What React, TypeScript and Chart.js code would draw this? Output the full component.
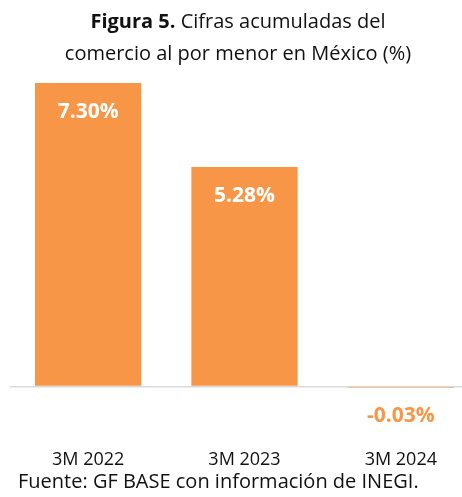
import React, { useEffect, useRef } from "react";
import { Chart, registerables } from "chart.js";

Chart.register(...registerables);

const categories = ["3M 2022", "3M 2023", "3M 2024"];
const values = [7.3, 5.28, -0.03];
const valueLabels = ["7.30%", "5.28%", "-0.03%"];

const ORANGE = "#F79646";
const FONT = "'Open Sans', 'Noto Sans', sans-serif";

const labelPlugin = {
  id: "barLabels",
  afterDatasetsDraw(chart: any) {
    const ctx = chart.ctx;
    const meta = chart.getDatasetMeta(0);
    ctx.save();
    ctx.font = `bold 21px ${FONT}`;
    ctx.textAlign = "center";
    ctx.textBaseline = "middle";
    meta.data.forEach((el: any, i: number) => {
      const v = values[i];
      ctx.fillStyle = v >= 0 ? "#ffffff" : ORANGE;
      const y = v >= 0 ? el.y + 28.5 : el.y + 28;
      ctx.fillText(valueLabels[i], el.x, y);
    });
    ctx.restore();
  },
};

export default function App() {
  const ref = useRef<HTMLCanvasElement | null>(null);

  useEffect(() => {
    if (!ref.current) return;
    const chart = new Chart(ref.current, {
      type: "bar",
      data: {
        labels: categories,
        datasets: [
          {
            data: values,
            backgroundColor: ORANGE,
            borderWidth: 0,
            barPercentage: 0.68,
            categoryPercentage: 1,
          },
        ],
      },
      options: {
        animation: false,
        responsive: false,
        maintainAspectRatio: false,
        layout: { padding: { left: 10, right: 1, top: 54, bottom: 0 } },
        plugins: {
          legend: { display: false },
          tooltip: { enabled: false },
          title: { display: false },
        },
        scales: {
          x: {
            grid: { display: false },
            border: { display: false },
            ticks: {
              color: "#111111",
              font: { family: FONT, size: 18 },
              padding: 1,
              maxRotation: 0,
            },
            afterFit: (s: any) => {
              s.height = 56.5;
            },
          },
          y: {
            min: -1.3,
            max: 8,
            ticks: { display: false, stepSize: 1 },
            border: { display: false },
            grid: {
              drawTicks: false,
              lineWidth: 1.5,
              color: (c: any) =>
                c.tick && c.tick.value === 0 ? "#D9D9D9" : "rgba(0,0,0,0)",
            },
            afterFit: (s: any) => {
              s.width = 0;
            },
          },
        },
      },
      plugins: [labelPlugin],
    });
    return () => chart.destroy();
  }, []);

  return (
    <div
      style={{
        position: "absolute",
        left: 0,
        top: 0,
        width: 462,
        height: 497,
        overflow: "hidden",
        background: "#fff",
        fontFamily: FONT,
        color: "#111111",
      }}
    >
      <canvas
        ref={ref}
        width={480}
        height={497}
        style={{ position: "absolute", left: 0, top: 0, width: 480, height: 497 }}
      />
      <div
        style={{
          position: "absolute",
          left: 7,
          top: 5,
          width: 462,
          textAlign: "center",
          fontSize: 20,
          lineHeight: "32px",
        }}
      >
        <div>
          <b>Figura 5.</b> Cifras acumuladas del
        </div>
        <div>comercio al por menor en México (%)</div>
      </div>
      <div
        style={{
          position: "absolute",
          left: 18,
          top: 469,
          fontSize: 20,
          lineHeight: "24px",
          whiteSpace: "nowrap",
        }}
      >
        Fuente: GF BASE con información de INEGI.
      </div>
    </div>
  );
}
